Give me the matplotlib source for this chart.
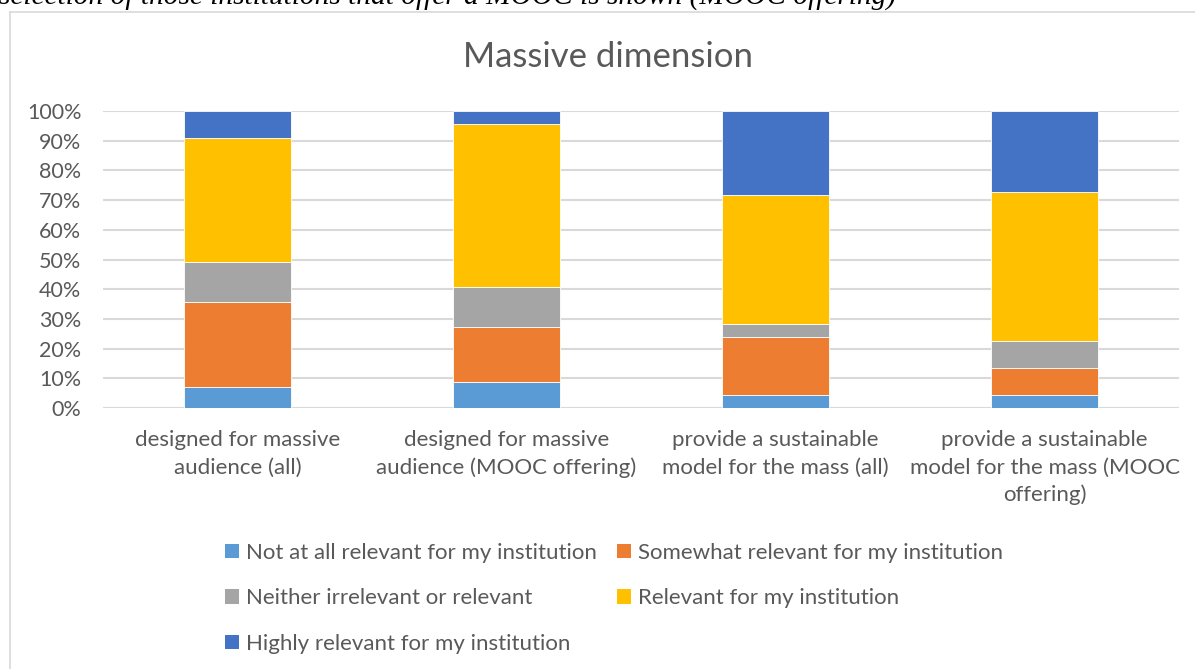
import numpy as np
import matplotlib
matplotlib.use('Agg')
import matplotlib.pyplot as plt
from matplotlib.patches import Patch
from matplotlib.lines import Line2D
from matplotlib.ticker import PercentFormatter

plt.rcParams['font.family'] = ['Lato', 'DejaVu Sans']

# Data (shares of respondents, in %)
categories = ['designed for massive\naudience (all)',
              'designed for massive\naudience (MOOC offering)',
              'provide a sustainable\nmodel for the mass (all)',
              'provide a sustainable\nmodel for the mass (MOOC\noffering)']
series_names = ['Not at all relevant for my institution',
                'Somewhat relevant for my institution',
                'Neither irrelevant or relevant',
                'Relevant for my institution',
                'Highly relevant for my institution']
not_at_all = [7.2, 8.9, 4.3, 4.3]
somewhat = [28.6, 18.3, 19.5, 9.3]
neither = [13.2, 13.5, 4.5, 9.1]
relevant = [42.0, 54.8, 43.4, 50.0]
highly = [9.0, 4.5, 28.3, 27.3]
colors = ['#5B9BD5', '#ED7D31', '#A5A5A5', '#FFC000', '#4472C4']

fig = plt.figure(figsize=(11.95, 6.69), dpi=100)
ax = fig.add_axes([103/1195, 1 - 408/669, 1076/1195, 297/669])

x = np.arange(len(categories))
bottom = np.zeros(len(categories))
handles = []
for vals, name, c in zip([not_at_all, somewhat, neither, relevant, highly], series_names, colors):
    vals = np.array(vals) / 100.0
    ax.bar(x, vals, width=0.4, bottom=bottom, color=c, edgecolor='white', linewidth=0.6, zorder=3)
    bottom += vals
    handles.append(Patch(facecolor=c, edgecolor='none', label=name))

ax.set_xlim(-0.5, len(categories) - 0.5)
ax.set_ylim(0, 1)
ax.set_yticks(np.arange(0, 1.001, 0.1))
ax.yaxis.set_major_formatter(PercentFormatter(1, decimals=0))
ax.set_xticks(x)
ax.set_xticklabels(categories, linespacing=1.45)
ax.tick_params(axis='both', length=0, colors='#595959')
ax.tick_params(axis='y', pad=15.5, labelsize=15.5)
ax.tick_params(axis='x', pad=16, labelsize=16)
ax.grid(axis='y', color='#D9D9D9', linewidth=1.5, zorder=0)
for s in ax.spines.values():
    s.set_visible(False)

fig.text(608/1195, 1 - 67/669, 'Massive dimension', ha='center', va='baseline',
         fontsize=25, color='#595959')

# caption of the source document, cut off at the top
fig.text(-1/1195, 1 - 5/669, 'selection of those institutions that offer a MOOC is shown (MOOC offering)',
         ha='left', va='baseline', fontsize=21.2, style='italic', family='Liberation Serif', color='black')

# chart border
fig.add_artist(Line2D([10/1195, 10/1195], [0, 1 - 12/669], transform=fig.transFigure, color='#D9D9D9', linewidth=1.2))
fig.add_artist(Line2D([10/1195, 1], [1 - 12/669, 1 - 12/669], transform=fig.transFigure, color='#D9D9D9', linewidth=1.2))

order = [0, 2, 4, 1, 3]
fig.legend([handles[i] for i in order], [series_names[i] for i in order],
           loc='upper left', bbox_to_anchor=(205/1195, 1 - 523/669), ncol=2, frameon=False,
           fontsize=16, labelcolor='#595959', handlelength=0.63, handleheight=0.63,
           handletextpad=0.32, labelspacing=1.14, columnspacing=0.88)

fig.savefig('out.png', dpi=100)
